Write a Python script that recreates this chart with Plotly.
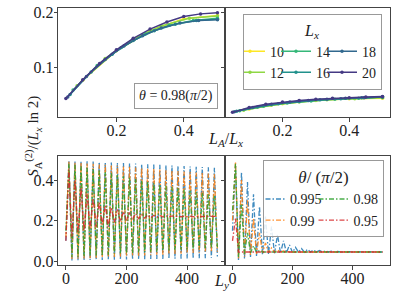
import plotly.graph_objects as go

FONT = "Liberation Serif"
W, H = 395, 306

# ---------------- top panels: S/(Lx ln2) vs LA/Lx ----------------
lx_sizes = [10, 12, 14, 16, 18, 20]
lx_colors = ["#fde725", "#8fd744", "#35b779", "#21918c", "#31688e", "#443983"]
lx_groups = ["g1", "g1", "g2", "g2", "g3", "g3"]

x_10 = [0.1, 0.2, 0.3, 0.4, 0.5]
x_12 = [0.0833, 0.1667, 0.25, 0.3333, 0.4167, 0.5]
x_14 = [0.0714, 0.1429, 0.2143, 0.2857, 0.3571, 0.4286, 0.5]
x_16 = [0.0625, 0.125, 0.1875, 0.25, 0.3125, 0.375, 0.4375, 0.5]
x_18 = [0.0556, 0.1111, 0.1667, 0.2222, 0.2778, 0.3333, 0.3889, 0.4444, 0.5]
x_20 = [0.05, 0.1, 0.15, 0.2, 0.25, 0.3, 0.35, 0.4, 0.45, 0.5]

# theta = 0.98 (pi/2)  (left)
s98_10 = [0.076, 0.130, 0.167, 0.189, 0.195]
s98_12 = [0.066, 0.116, 0.152, 0.176, 0.190, 0.194]
s98_14 = [0.058, 0.103, 0.136, 0.161, 0.177, 0.186, 0.190]
s98_16 = [0.050, 0.091, 0.124, 0.149, 0.167, 0.179, 0.186, 0.188]
s98_18 = [0.045, 0.083, 0.114, 0.139, 0.158, 0.172, 0.181, 0.186, 0.187]
s98_20 = [0.0425, 0.077, 0.107, 0.132, 0.153, 0.170, 0.183, 0.193, 0.198, 0.200]

# second angle (right)
sR_10 = [0.023, 0.033, 0.039, 0.042, 0.043]
sR_12 = [0.021, 0.030, 0.036, 0.040, 0.042, 0.044]
sR_14 = [0.020, 0.028, 0.034, 0.038, 0.041, 0.043, 0.045]
sR_16 = [0.019, 0.027, 0.033, 0.037, 0.040, 0.042, 0.044, 0.045]
sR_18 = [0.018, 0.026, 0.032, 0.036, 0.039, 0.041, 0.043, 0.044, 0.045]
sR_20 = [0.017, 0.026, 0.032, 0.036, 0.039, 0.041, 0.043, 0.044, 0.045, 0.046]

x_lists = [x_10, x_12, x_14, x_16, x_18, x_20]
left_lists = [s98_10, s98_12, s98_14, s98_16, s98_18, s98_20]
right_lists = [sR_10, sR_12, sR_14, sR_16, sR_18, sR_20]

# ---------------- bottom panels: S/(Lx ln2) vs Ly ----------------
theta_labels = ["0.995", "0.99", "0.98", "0.95"]
theta_colors = ["#1f77b4", "#ff7f0e", "#2ca02c", "#d62728"]
theta_groups = ["h1", "h1", "h2", "h2"]

ly = [0, 10, 20, 30, 40, 50, 60, 70, 80, 90, 100, 110, 120, 130, 140, 150, 160, 170,
      180, 190, 200, 210, 220, 230, 240, 250, 260, 270, 280, 290, 300, 310, 320, 330,
      340, 350, 360, 370, 380, 390, 400, 410, 420, 430, 440, 450, 460, 470, 480, 490, 500]

bl_995 = [0.10, 0.495, 0.003, 0.494, 0.004, 0.493, 0.004, 0.492, 0.005, 0.491, 0.005,
          0.489, 0.006, 0.488, 0.006, 0.487, 0.007, 0.485, 0.007, 0.484, 0.008, 0.482,
          0.008, 0.481, 0.009, 0.479, 0.009, 0.478, 0.010, 0.476, 0.010, 0.475, 0.011,
          0.473, 0.011, 0.472, 0.012, 0.470, 0.012, 0.469, 0.013, 0.467, 0.013, 0.466,
          0.014, 0.464, 0.014, 0.463, 0.015, 0.461, 0.015]
bl_99 = [0.12, 0.490, 0.010, 0.487, 0.011, 0.485, 0.013, 0.482, 0.014, 0.480, 0.016,
         0.477, 0.017, 0.475, 0.019, 0.472, 0.020, 0.470, 0.022, 0.467, 0.023, 0.465,
         0.025, 0.462, 0.026, 0.460, 0.028, 0.457, 0.029, 0.455, 0.031, 0.452, 0.032,
         0.450, 0.034, 0.447, 0.035, 0.445, 0.037, 0.442, 0.038, 0.440, 0.040, 0.437,
         0.041, 0.435, 0.043, 0.432, 0.044, 0.430, 0.046]
bl_98 = [0.15, 0.480, 0.020, 0.475, 0.022, 0.468, 0.024, 0.461, 0.026, 0.454, 0.028,
         0.447, 0.030, 0.440, 0.032, 0.433, 0.034, 0.426, 0.036, 0.419, 0.038, 0.412,
         0.040, 0.405, 0.042, 0.398, 0.044, 0.391, 0.046, 0.384, 0.048, 0.378, 0.050,
         0.372, 0.052, 0.366, 0.054, 0.360, 0.056, 0.354, 0.058, 0.348, 0.060, 0.342,
         0.062, 0.336, 0.064, 0.330, 0.066, 0.324, 0.068]
bl_95 = [0.10, 0.45, 0.12, 0.40, 0.14, 0.36, 0.15, 0.33, 0.16, 0.31, 0.17, 0.29, 0.18,
         0.275, 0.17, 0.265, 0.19, 0.255, 0.195, 0.245, 0.20, 0.24, 0.205, 0.235, 0.21,
         0.23, 0.212, 0.228, 0.214, 0.226, 0.216, 0.225, 0.217, 0.224, 0.218, 0.223,
         0.218, 0.222, 0.219, 0.222, 0.219, 0.222, 0.219, 0.221, 0.219, 0.221, 0.220,
         0.221, 0.220, 0.221, 0.220]

br_995 = [0.15, 0.47, 0.005, 0.44, 0.012, 0.39, 0.02, 0.33, 0.025, 0.27, 0.03, 0.22,
          0.035, 0.17, 0.038, 0.13, 0.04, 0.10, 0.042, 0.08, 0.043, 0.068, 0.044, 0.062,
          0.044, 0.058, 0.045, 0.055, 0.045, 0.052, 0.045, 0.050, 0.045, 0.049, 0.045,
          0.048, 0.045, 0.047, 0.045, 0.047, 0.045, 0.046, 0.045, 0.046, 0.045, 0.046,
          0.045, 0.046, 0.045, 0.046, 0.045]
br_99 = [0.20, 0.49, 0.01, 0.40, 0.02, 0.30, 0.03, 0.21, 0.035, 0.14, 0.04, 0.09, 0.042,
         0.065, 0.044, 0.055, 0.045, 0.050, 0.045, 0.047, 0.045, 0.045, 0.045, 0.045,
         0.045, 0.045, 0.045, 0.045, 0.045, 0.045, 0.045, 0.045, 0.045, 0.045, 0.045,
         0.045, 0.045, 0.045, 0.045, 0.045, 0.045, 0.045, 0.045, 0.045, 0.045, 0.045,
         0.045, 0.045, 0.045, 0.045, 0.045]
br_98 = [0.25, 0.48, 0.02, 0.28, 0.035, 0.14, 0.04, 0.075, 0.044, 0.052, 0.045, 0.045,
         0.045, 0.045, 0.045, 0.045, 0.045, 0.045, 0.045, 0.045, 0.045, 0.045, 0.045,
         0.045, 0.045, 0.045, 0.045, 0.045, 0.045, 0.045, 0.045, 0.045, 0.045, 0.045,
         0.045, 0.045, 0.045, 0.045, 0.045, 0.045, 0.045, 0.045, 0.045, 0.045, 0.045,
         0.045, 0.045, 0.045, 0.045, 0.045, 0.045]
br_95 = [0.10, 0.21, 0.045, 0.046, 0.045, 0.045, 0.045, 0.045, 0.045, 0.045, 0.045,
         0.045, 0.045, 0.045, 0.045, 0.045, 0.045, 0.045, 0.045, 0.045, 0.045, 0.045,
         0.045, 0.045, 0.045, 0.045, 0.045, 0.045, 0.045, 0.045, 0.045, 0.045, 0.045,
         0.045, 0.045, 0.045, 0.045, 0.045, 0.045, 0.045, 0.045, 0.045, 0.045, 0.045,
         0.045, 0.045, 0.045, 0.045, 0.045, 0.045, 0.045]

bottom_left = [bl_995, bl_99, bl_98, bl_95]
bottom_right = [br_995, br_99, br_98, br_95]

fig = go.Figure()

for i, lx in enumerate(lx_sizes):
    fig.add_trace(go.Scatter(
        x=x_lists[i], y=left_lists[i], mode="lines+markers", name=str(lx),
        line=dict(color=lx_colors[i], width=1.5), marker=dict(size=3.5, color=lx_colors[i]),
        xaxis="x", yaxis="y", legend="legend", legendgroup=lx_groups[i], showlegend=True))
for i, lx in enumerate(lx_sizes):
    fig.add_trace(go.Scatter(
        x=x_lists[i], y=right_lists[i], mode="lines+markers", name=str(lx),
        line=dict(color=lx_colors[i], width=1.5), marker=dict(size=3.5, color=lx_colors[i]),
        xaxis="x2", yaxis="y2", showlegend=False))

DASH = "5px,2px,1.5px,2px"
for i, lab in enumerate(theta_labels):
    fig.add_trace(go.Scatter(
        x=ly, y=bottom_left[i], mode="lines", name=lab, opacity=0.85,
        line=dict(color=theta_colors[i], width=1.3, dash=DASH),
        xaxis="x3", yaxis="y3", legend="legend2", legendgroup=theta_groups[i], showlegend=True))
for i, lab in enumerate(theta_labels):
    fig.add_trace(go.Scatter(
        x=ly, y=bottom_right[i], mode="lines", name=lab, opacity=0.85,
        line=dict(color=theta_colors[i], width=1.3, dash=DASH),
        xaxis="x4", yaxis="y4", showlegend=False))

# geometry (pixels -> paper)
XL0, XMID, XR1 = 58.3 / W, 225 / W, 390 / W
TOP_Y = [1 - 116.7 / H, 1 - 5 / H]
BOT_Y = [1 - 268.3 / H, 1 - 156.7 / H]

ax = dict(showline=True, linecolor="#444", linewidth=1, mirror=True, ticks="outside",
          ticklen=3.5, tickwidth=0.8, tickcolor="#444", showgrid=False, zeroline=False,
          tickfont=dict(family=FONT, size=16, color="#222"))
axx = dict(ax, ticklabelstandoff=-5)
axy = dict(ax, ticklabelstandoff=-3)

fig.update_layout(
    width=W, height=H, margin=dict(l=0, r=0, t=0, b=0),
    paper_bgcolor="white", plot_bgcolor="white",
    font=dict(family=FONT, size=14, color="#222"),
    xaxis=dict(axx, domain=[XL0, XMID], anchor="y", range=[0.0275, 0.5225], tickvals=[0.2, 0.4]),
    yaxis=dict(axy, domain=TOP_Y, anchor="x", range=[0.0084, 0.209], tickvals=[0.1, 0.2]),
    xaxis2=dict(axx, domain=[XMID, XR1], anchor="y2", range=[0.0275, 0.5225], tickvals=[0.2, 0.4]),
    yaxis2=dict(axy, domain=TOP_Y, anchor="x2", range=[0.0084, 0.209], tickvals=[0.1, 0.2],
                showticklabels=False),
    xaxis3=dict(axx, domain=[XL0, XMID], anchor="y3", range=[-25, 525], tickvals=[0, 200, 400]),
    yaxis3=dict(axy, domain=BOT_Y, anchor="x3", range=[-0.02, 0.518], tickvals=[0, 0.2, 0.4],
                tickformat=".1f"),
    xaxis4=dict(axx, domain=[XMID, XR1], anchor="y4", range=[-25, 525], tickvals=[0, 200, 400]),
    yaxis4=dict(axy, domain=BOT_Y, anchor="x4", range=[-0.02, 0.518], tickvals=[0, 0.2, 0.4],
                showticklabels=False),
    legend=dict(orientation="h", traceorder="grouped", x=243 / W, y=1 - 11 / H,
                xanchor="left", yanchor="top", bgcolor="rgba(255,255,255,0.85)",
                bordercolor="#999", borderwidth=1, font=dict(family=FONT, size=14),
                indentation=-13, tracegroupgap=0,
                title=dict(text="<i>L<sub>x</sub></i>", side="top center",
                           font=dict(family=FONT, size=16))),
    legend2=dict(orientation="h", traceorder="grouped", x=263 / W, y=1 - 161 / H,
                 xanchor="left", yanchor="top", bgcolor="rgba(255,255,255,0.85)",
                 bordercolor="#999", borderwidth=1, font=dict(family=FONT, size=14),
                 indentation=-13, tracegroupgap=0,
                 title=dict(text="<i>θ</i>/ (<i>π</i>/2)", side="top center",
                            font=dict(family=FONT, size=17))),
    annotations=[
        dict(xref="x domain", yref="y domain", x=0.958, y=0.069, xanchor="right",
             yanchor="bottom", showarrow=False, text="<i>θ</i> = 0.98(<i>π</i>/2)",
             bordercolor="#999", borderwidth=1, borderpad=4, bgcolor="white",
             font=dict(family=FONT, size=14)),
        dict(xref="paper", yref="paper", x=21 / W, y=1 - 137 / H, textangle=-90,
             showarrow=False, text="<i>S</i><sub>A</sub><sup>(2)</sup>/(<i>L<sub>x</sub></i> ln 2)",
             font=dict(family=FONT, size=15)),
        dict(xref="paper", yref="paper", x=225 / W, y=1 - 140 / H, showarrow=False,
             text="<i>L<sub>A</sub></i>/<i>L<sub>x</sub></i>", font=dict(family=FONT, size=16)),
        dict(xref="paper", yref="paper", x=221 / W, y=1 - 297 / H, showarrow=False,
             text="<i>L<sub>y</sub></i>", font=dict(family=FONT, size=16)),
    ],
)

fig.write_html("out.html", post_script="document.body.style.margin='0px';",
               config={"displayModeBar": False})
